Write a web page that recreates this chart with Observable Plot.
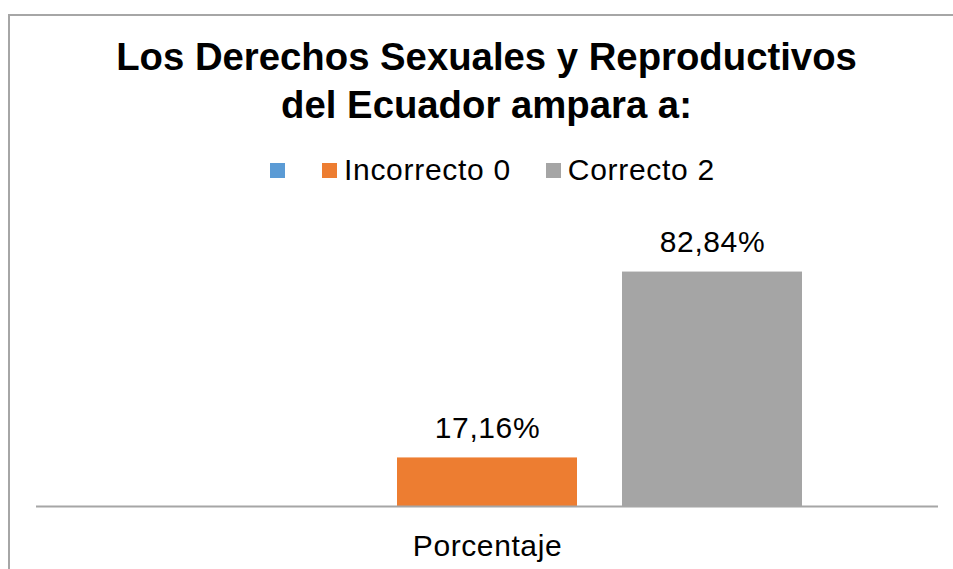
<!DOCTYPE html>
<html>
<head>
<meta charset="utf-8">
<script src="https://cdn.jsdelivr.net/npm/d3@7"></script>
<script src="https://cdn.jsdelivr.net/npm/@observablehq/plot@0.6"></script>
<style>
  html, body { margin: 0; padding: 0; background: #fff; }
  body { width: 953px; height: 569px; position: relative; overflow: hidden; font-family: "Liberation Sans", Arial, sans-serif; }
  #frame { position: absolute; left: 8px; top: 14px; width: 960px; height: 600px; border-left: 2px solid #a6a6a6; border-top: 2px solid #a6a6a6; }
  #title { position: absolute; left: 0; top: 33px; width: 973px; text-align: center; font-weight: bold; font-size: 38.3px; line-height: 48px; color: #000; }
  #legend { position: absolute; left: 270px; top: 152px; display: flex; align-items: center; font-size: 30px; letter-spacing: 0.7px; color: #000; height: 36px; }
  #legend .item { display: flex; align-items: center; margin-right: 35px; }
  #legend .sw { width: 15px; height: 15px; margin-right: 7px; }
  #chart { position: absolute; left: 0; top: 200px; }
  #chart svg text { letter-spacing: 0.6px; }
</style>
</head>
<body>
<div id="frame"></div>
<div id="title">Los Derechos Sexuales y Reproductivos<br>del Ecuador ampara a:</div>
<div id="legend"></div>
<div id="chart"></div>
<script>
const categories = ["Porcentaje"];
const seriesNames = ["", "Incorrecto 0", "Correcto 2"];
const seriesColors = ["#5b9bd5", "#ed7d31", "#a5a5a5"];
const seriesValues = [null, 17.16, 82.84];

// legend
const legend = document.getElementById("legend");
seriesNames.forEach((name, i) => {
  const item = document.createElement("div");
  item.className = "item";
  const sw = document.createElement("div");
  sw.className = "sw";
  sw.style.background = seriesColors[i];
  item.appendChild(sw);
  const t = document.createElement("span");
  t.textContent = name;
  item.appendChild(t);
  if (!name) item.style.marginRight = "30px";
  legend.appendChild(item);
});

const data = seriesNames.map((s, i) => ({
  category: categories[0],
  series: "s" + i,
  value: seriesValues[i]
})).filter(d => d.value != null);

const fmt = v => v.toFixed(2).replace(".", ",") + "%";

const chart = Plot.plot({
  width: 953,
  height: 369,
  marginTop: 23,
  marginBottom: 63,
  marginLeft: 36,
  marginRight: 15,
  style: { fontFamily: "'Liberation Sans', Arial, sans-serif", background: "transparent" },
  fx: { domain: categories, padding: 0 },
  x: { domain: seriesNames.map((s, i) => "s" + i), paddingInner: 0.2, paddingOuter: 0.6, axis: null },
  y: { domain: [0, 100], axis: null },
  color: { domain: seriesNames.map((s, i) => "s" + i), range: seriesColors },
  marks: [
    Plot.barY(data, { fx: "category", x: "series", y: "value", fill: "series" }),
    Plot.ruleY([0], { stroke: "#a6a6a6", strokeWidth: 2 }),
    Plot.text(data, { fx: "category", x: "series", y: "value", text: d => fmt(d.value), lineAnchor: "bottom", dy: -20, fontSize: 30, fill: "#000" }),
    Plot.axisFx({ anchor: "bottom", tickSize: 0, tickPadding: 28, fontSize: 30, label: null, fill: "#000" })
  ]
});
document.getElementById("chart").appendChild(chart);
</script>
</body>
</html>
